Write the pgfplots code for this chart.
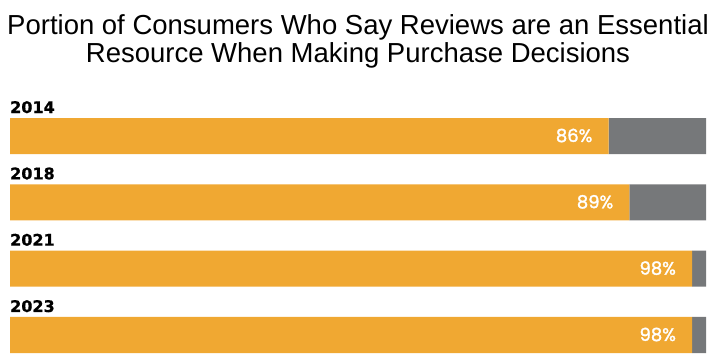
\documentclass[border=0pt]{standalone}
\usepackage{pgfplots}
\pgfplotsset{compat=1.18}
\usepackage{fontspec}
\setmainfont{Liberation Sans}
\newfontfamily\pctfont[FakeBold=1.6]{Poppins}
\newfontfamily\yearfont[BoldFeatures={FakeBold=0.8}]{DejaVu Sans}
\definecolor{barorange}{HTML}{F0A832}
\definecolor{bargrey}{HTML}{76787A}
\tikzset{
  year/.style={anchor=base west, inner sep=0pt, yshift=5bp, font=\yearfont\bfseries\fontsize{16bp}{18bp}\selectfont},
  pct/.style={anchor=east, inner sep=0pt, xshift=-16bp, yshift=0.5bp, text=white, font=\pctfont\fontsize{18bp}{20bp}\selectfont},
}
\begin{document}
\begin{tikzpicture}
\path[use as bounding box] (0,0) rectangle (716bp,-364bp);
\node[anchor=base, inner sep=0pt, font=\fontsize{27.5bp}{30bp}\selectfont] at (358bp,-34bp) {Portion of Consumers Who Say Reviews are an Essential};
\node[anchor=base, inner sep=0pt, font=\fontsize{27.5bp}{30bp}\selectfont] at (358bp,-62bp) {Resource When Making Purchase Decisions};
\begin{axis}[
  anchor=south west, at={(10bp,-353bp)},
  scale only axis, width=696bp, height=235bp,
  xbar stacked, bar width=0.543,
  xmin=0, xmax=100,
  ymin=-0.2715, ymax=3.2715, y dir=reverse,
  axis line style={draw=none}, ticks=none,
  clip=false,
]
\addplot[fill=barorange, draw=none] coordinates {(86,0) (89,1) (98,2) (98,3)};
\addplot[fill=bargrey, draw=none] coordinates {(14,0) (11,1) (2,2) (2,3)};
\node[year] at (axis cs:0,-0.2715) {2014};
\node[year] at (axis cs:0,0.7285) {2018};
\node[year] at (axis cs:0,1.7285) {2021};
\node[year] at (axis cs:0,2.7285) {2023};
\coordinate (p0) at (axis cs:86,0);
\coordinate (p1) at (axis cs:89,1);
\coordinate (p2) at (axis cs:98,2);
\coordinate (p3) at (axis cs:98,3);
\end{axis}
\node[pct] at (p0) {86\%};
\node[pct] at (p1) {89\%};
\node[pct] at (p2) {98\%};
\node[pct] at (p3) {98\%};
\end{tikzpicture}
\end{document}
